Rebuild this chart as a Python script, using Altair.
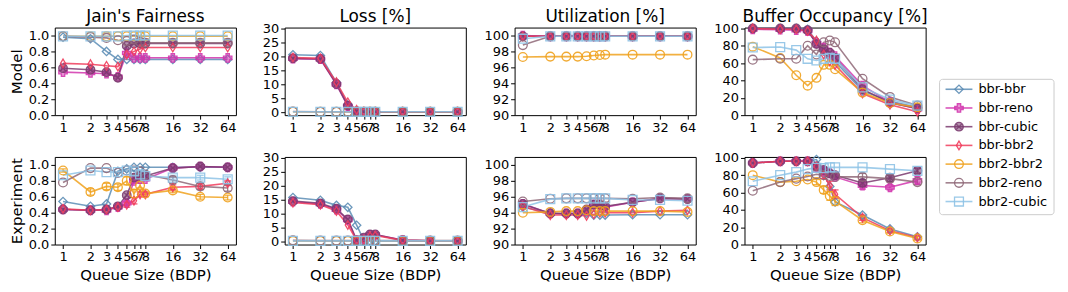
import altair as alt
import pandas as pd

Q = [1, 2, 3, 4, 5, 6, 7, 8, 16, 32, 64]
SERIES = ["bbr-bbr", "bbr-reno", "bbr-cubic", "bbr-bbr2", "bbr2-bbr2", "bbr2-reno", "bbr2-cubic"]
COLORS = ["#5C8DB5", "#D236AE", "#7A3A6E", "#F03C5C", "#F0A21E", "#8F6878", "#8EC3E6"]
FILLS = ["transparent", "#D236AE", "#7A3A6E", "transparent", "transparent", "transparent", "transparent"]
SHAPES = ["diamond", "cross",
          "M1,0A1,1,0,1,1,-1,0A1,1,0,1,1,1,0ZM-0.7,-0.7L0.7,0.7M-0.7,0.7L0.7,-0.7",
          "M0,-1L0.6,0L0,1L-0.6,0Z", "circle", "circle", "square"]
SIZES = [70, 80, 60, 75, 45, 80, 55]

COL_TITLES = ["Jain's Fairness", "Loss [%]", "Utilization [%]", "Buffer Occupancy [%]"]
ROW_TITLES = ["Model", "Experiment"]

model_fair = {
    "bbr-bbr":    [0.98, 0.96, 0.80, 0.70, 0.70, 0.70, 0.70, 0.70, 0.70, 0.70, 0.70],
    "bbr-reno":   [0.54, 0.53, 0.52, 0.48, 0.78, 0.72, 0.72, 0.72, 0.72, 0.72, 0.72],
    "bbr-cubic":  [0.59, 0.57, 0.54, 0.47, 0.87, 0.90, 0.90, 0.90, 0.90, 0.90, 0.90],
    "bbr-bbr2":   [0.65, 0.64, 0.62, 0.61, 0.76, 0.80, 0.83, 0.85, 0.85, 0.85, 0.85],
    "bbr2-bbr2":  [0.99, 0.99, 0.99, 0.99, 0.99, 0.99, 0.99, 0.99, 0.99, 0.99, 0.99],
    "bbr2-reno":  [0.99, 0.98, 0.97, 0.94, 0.93, 0.95, 0.92, 0.91, 0.91, 0.91, 0.91],
    "bbr2-cubic": [0.99, 0.99, 0.99, 0.99, 1.00, 1.00, 1.00, 1.00, 1.00, 1.00, 1.00],
}
model_loss = {
    "bbr-bbr":    [20.6, 20.3, 10.6, 2.6, 0.4, 0.2, 0.2, 0.2, 0.2, 0.2, 0.2],
    "bbr-reno":   [19.2, 19.0, 10.0, 2.2, 0.3, 0.2, 0.2, 0.2, 0.2, 0.2, 0.2],
    "bbr-cubic":  [19.3, 19.1, 10.1, 2.4, 0.3, 0.2, 0.2, 0.2, 0.2, 0.2, 0.2],
    "bbr-bbr2":   [19.6, 19.3, 10.8, 3.6, 0.9, 0.3, 0.2, 0.2, 0.2, 0.2, 0.2],
    "bbr2-bbr2":  [0.2, 0.2, 0.2, 0.2, 0.2, 0.2, 0.2, 0.2, 0.2, 0.2, 0.2],
    "bbr2-reno":  [0.3, 0.2, 0.2, 0.2, 0.2, 0.2, 0.2, 0.2, 0.2, 0.2, 0.2],
    "bbr2-cubic": [0.2, 0.2, 0.2, 0.2, 0.2, 0.2, 0.2, 0.2, 0.2, 0.2, 0.2],
}
model_util = {
    "bbr-bbr":    [99.9, 99.9, 99.9, 99.9, 99.9, 99.9, 99.9, 99.9, 99.9, 99.9, 99.9],
    "bbr-reno":   [100.0, 99.9, 99.9, 99.9, 99.9, 99.9, 99.9, 99.9, 99.9, 99.9, 99.9],
    "bbr-cubic":  [99.9, 99.9, 99.9, 99.9, 99.9, 99.9, 99.9, 99.9, 99.9, 99.9, 99.9],
    "bbr-bbr2":   [99.9, 99.9, 99.9, 99.9, 99.9, 99.9, 99.9, 99.9, 99.9, 99.9, 99.9],
    "bbr2-bbr2":  [97.3, 97.35, 97.35, 97.35, 97.4, 97.5, 97.55, 97.6, 97.6, 97.6, 97.6],
    "bbr2-reno":  [98.8, 99.9, 99.9, 99.9, 99.9, 99.9, 99.9, 99.9, 99.9, 99.9, 99.9],
    "bbr2-cubic": [99.6, 99.9, 99.9, 99.9, 99.9, 99.9, 99.9, 99.9, 99.9, 99.9, 99.9],
}
model_buf = {
    "bbr-bbr":    [100, 100, 100, 99, 85, 74, 68, 62, 28, 16, 9],
    "bbr-reno":   [99, 98.5, 98, 97, 83, 78, 72, 68, 34, 15, 7],
    "bbr-cubic":  [100, 100, 100, 98, 82, 76, 72, 66, 30, 14, 8],
    "bbr-bbr2":   [100, 99, 99, 97, 86, 70, 62, 58, 25, 12, 4],
    "bbr2-bbr2":  [79, 66, 46, 34, 43, 58, 58, 53, 26, 14, 9],
    "bbr2-reno":  [64, 65, 65, 80, 70, 84, 86, 84, 42, 21, 11],
    "bbr2-cubic": [78, 78.5, 75, 65, 63, 65, 66, 65, 32, 18, 11],
}

exp_fair = {
    "bbr-bbr":    [0.54, 0.48, 0.51, 0.92, 0.95, 0.97, 0.97, 0.97, 0.97, 0.97, 0.97],
    "bbr-reno":   [0.44, 0.43, 0.43, 0.47, 0.52, 0.80, 0.82, 0.82, 0.96, 0.98, 0.97],
    "bbr-cubic":  [0.44, 0.43, 0.44, 0.48, 0.62, 0.84, 0.86, 0.86, 0.96, 0.98, 0.97],
    "bbr-bbr2":   [0.45, 0.43, 0.44, 0.47, 0.50, 0.55, 0.63, 0.63, 0.72, 0.73, 0.77],
    "bbr2-bbr2":  [0.93, 0.66, 0.73, 0.72, 0.80, 0.64, 0.74, 0.64, 0.68, 0.60, 0.59],
    "bbr2-reno":  [0.78, 0.96, 0.96, 0.90, 0.93, 0.93, 0.92, 0.88, 0.81, 0.73, 0.71],
    "bbr2-cubic": [0.87, 0.93, 0.91, 0.91, 0.93, 0.92, 0.88, 0.86, 0.84, 0.84, 0.82],
}
exp_fair_err = {
    "bbr-reno":   [0, 0, 0, 0, 0.03, 0.03, 0.02, 0.02, 0, 0, 0],
    "bbr-bbr2":   [0, 0, 0, 0.02, 0.03, 0.04, 0.03, 0.03, 0.03, 0.03, 0.03],
    "bbr2-bbr2":  [0.02, 0.04, 0.04, 0.04, 0.05, 0.05, 0.03, 0.03, 0.03, 0.03, 0.03],
    "bbr2-reno":  [0, 0, 0, 0, 0, 0, 0, 0.03, 0.04, 0.04, 0.04],
    "bbr2-cubic": [0, 0, 0, 0, 0, 0, 0.03, 0.03, 0.03, 0.03, 0.03],
}
exp_loss = {
    "bbr-bbr":    [15.8, 14.8, 13.0, 12.3, 5.9, 0.5, 0.3, 0.3, 0.3, 0.2, 0.3],
    "bbr-reno":   [14.3, 13.5, 11.5, 7.8, 0.5, 1.0, 2.5, 2.5, 0.6, 0.3, 0.2],
    "bbr-cubic":  [14.5, 13.7, 11.8, 8.0, 0.5, 1.5, 2.6, 2.6, 0.5, 0.3, 0.2],
    "bbr-bbr2":   [14.0, 13.2, 11.0, 6.0, 0.5, 0.8, 2.0, 2.2, 0.5, 0.3, 0.2],
    "bbr2-bbr2":  [0.3, 0.3, 0.3, 0.3, 0.3, 0.3, 0.3, 0.3, 0.3, 0.3, 0.3],
    "bbr2-reno":  [0.5, 0.4, 0.4, 0.4, 0.4, 0.4, 0.4, 0.4, 0.4, 0.4, 0.4],
    "bbr2-cubic": [0.3, 0.3, 0.3, 0.3, 0.3, 0.3, 0.3, 0.3, 0.3, 0.3, 0.3],
}
exp_util = {
    "bbr-bbr":    [94.7, 94.0, 93.8, 93.8, 93.9, 93.7, 93.7, 93.7, 93.75, 93.75, 93.75],
    "bbr-reno":   [95.1, 93.9, 93.9, 93.9, 94.3, 95.0, 95.0, 94.7, 95.3, 95.8, 95.75],
    "bbr-cubic":  [95.1, 93.9, 93.9, 93.9, 94.4, 95.0, 95.0, 94.8, 95.3, 95.8, 95.7],
    "bbr-bbr2":   [94.8, 93.7, 93.7, 93.7, 93.6, 93.8, 94.0, 94.0, 94.0, 94.2, 94.3],
    "bbr2-bbr2":  [94.0, 94.1, 94.2, 94.2, 94.3, 94.2, 94.2, 94.2, 94.2, 94.2, 94.1],
    "bbr2-reno":  [95.4, 95.75, 95.8, 95.8, 95.8, 95.8, 95.8, 95.8, 95.75, 95.9, 95.8],
    "bbr2-cubic": [94.7, 95.7, 95.8, 95.8, 95.8, 95.8, 95.8, 95.8, 95.6, 95.6, 95.5],
}
exp_buf = {
    "bbr-bbr":    [94, 96, 96, 96, 98, 82, 67, 49, 34, 18, 9],
    "bbr-reno":   [94, 96, 96, 96, 89, 85, 82, 78, 68, 66, 74],
    "bbr-cubic":  [94, 96, 96, 96, 90, 86, 82, 80, 71, 77, 85],
    "bbr-bbr2":   [94, 96, 96, 96, 90, 80, 68, 58, 31, 16, 8],
    "bbr2-bbr2":  [80, 72, 73, 75, 72, 63, 56, 50, 28, 15, 7],
    "bbr2-reno":  [62, 72, 76, 78.5, 81, 80, 79, 78, 78, 76, 72],
    "bbr2-cubic": [73, 80, 83.5, 87, 88.5, 88, 89, 89, 89, 87, 85],
}
exp_buf_err = {
    "bbr-reno":   [0, 0, 0, 0, 3, 3, 3, 3, 4, 3, 4],
    "bbr-cubic":  [0, 0, 0, 0, 3, 3, 3, 3, 4, 4, 3],
    "bbr-bbr2":   [0, 0, 0, 0, 3, 4, 5, 5, 3, 2, 2],
    "bbr2-bbr2":  [0, 0, 0, 0, 3, 4, 5, 5, 3, 2, 2],
    "bbr2-reno":  [0, 0, 0, 0, 0, 0, 0, 0, 4, 4, 3],
}

PANELS = [
    [model_fair, model_loss, model_util, model_buf],
    [exp_fair, exp_loss, exp_util, exp_buf],
]
ERRS = [[{}, {}, {}, {}], [exp_fair_err, {}, {}, exp_buf_err]]
YDOMS = [[0, 1.1], [-1, 30.3], [90, 101], [0, 101]]
YTICKS = [[0, 0.2, 0.4, 0.6, 0.8, 1.0], [0, 5, 10, 15, 20, 25, 30],
          [90, 92, 94, 96, 98, 100], [0, 20, 40, 60, 80, 100]]
YFMTS = [".1f", "d", "d", "d"]

W, H = 182, 88

color_scale = alt.Scale(domain=SERIES, range=COLORS)
fill_scale = alt.Scale(domain=SERIES, range=FILLS)
shape_scale = alt.Scale(domain=SERIES, range=SHAPES)
size_scale = alt.Scale(domain=SERIES, range=SIZES)


def legend_layer():
    leg_df = pd.DataFrame({"series": SERIES, "i": list(range(len(SERIES)))})
    # item i sits 62 + 18.8*i px below the top of the panel
    yl = alt.Y("i:Q", scale=alt.Scale(domain=[-62 / 18.8, (H - 62) / 18.8], reverse=True, nice=False, zero=False),
               axis=None)
    x0 = W + 14
    box = alt.Chart(pd.DataFrame({"a": [0]})).mark_rect(
        fill="white", stroke="#cccccc", strokeWidth=1, cornerRadius=3
    ).encode(x=alt.value(x0), x2=alt.value(x0 + 115), y=alt.value(52), y2=alt.value(188))
    base = alt.Chart(leg_df)
    rules = base.mark_rule(strokeWidth=1.6, opacity=0.85).encode(
        x=alt.value(x0 + 6), x2=alt.value(x0 + 33), y=yl,
        color=alt.Color("series:N", scale=color_scale, legend=None))
    pts = base.mark_point(filled=False, strokeWidth=1.3, opacity=0.9, fillOpacity=0.6).encode(
        x=alt.value(x0 + 19.5), y=yl,
        color=alt.Color("series:N", scale=color_scale, legend=None),
        shape=alt.Shape("series:N", scale=shape_scale, legend=None),
        fill=alt.Fill("series:N", scale=fill_scale, legend=None),
        size=alt.Size("series:N", scale=size_scale, legend=None))
    txt = base.mark_text(align="left", baseline="middle", fontSize=13,
                         font="DejaVu Sans", color="black").encode(
        x=alt.value(x0 + 39), y=yl, text="series:N")
    return alt.layer(box, rules, pts, txt)


def panel(r, c):
    data = PANELS[r][c]
    errs = ERRS[r][c]
    rows = []
    for s in SERIES:
        e_list = errs.get(s, [0] * len(Q))
        for q, v, e in zip(Q, data[s], e_list):
            rows.append({"q": q, "v": v, "series": s, "lo": v - e, "hi": v + e, "e": e})
    df = pd.DataFrame(rows)
    xaxis_kw = dict(values=Q, format="d", labelOverlap=False, grid=False)
    xaxis_kw["title"] = "Queue Size (BDP)" if r == 1 else None
    yaxis_kw = dict(values=YTICKS[c], format=YFMTS[c], grid=False, titlePadding=4)
    yaxis_kw["title"] = ROW_TITLES[r] if c == 0 else None
    xenc = alt.X("q:Q", scale=alt.Scale(type="log", base=2, domain=[0.812, 78.8], nice=False),
                 axis=alt.Axis(**xaxis_kw))
    yscale = alt.Scale(domain=YDOMS[c], nice=False, zero=False)
    cenc = alt.Color("series:N", scale=color_scale, legend=None)
    base = alt.Chart(df).encode(
        x=xenc,
        y=alt.Y("v:Q", scale=yscale, axis=alt.Axis(**yaxis_kw)),
        color=cenc,
    )
    lines = base.mark_line(strokeWidth=1.6, opacity=0.85)
    pts = base.mark_point(filled=False, strokeWidth=1.3, opacity=0.9, fillOpacity=0.6).encode(
        shape=alt.Shape("series:N", scale=shape_scale, legend=None),
        fill=alt.Fill("series:N", scale=fill_scale, legend=None),
        size=alt.Size("series:N", scale=size_scale, legend=None),
    )
    layers = [lines]
    if errs:
        eb = alt.Chart(df).transform_filter("datum.e > 0")
        bars = eb.mark_rule(strokeWidth=1.3, opacity=0.85).encode(
            x=xenc, y=alt.Y("lo:Q", scale=yscale, axis=alt.Axis(**yaxis_kw)), y2="hi:Q", color=cenc)
        caps_lo = eb.mark_tick(orient="horizontal", size=7, thickness=1.3, opacity=0.85).encode(
            x=xenc, y=alt.Y("lo:Q", scale=yscale, axis=alt.Axis(**yaxis_kw)), color=cenc)
        caps_hi = eb.mark_tick(orient="horizontal", size=7, thickness=1.3, opacity=0.85).encode(
            x=xenc, y=alt.Y("hi:Q", scale=yscale, axis=alt.Axis(**yaxis_kw)), color=cenc)
        layers += [bars, caps_lo, caps_hi]
    layers.append(pts)
    if r == 0:
        # column title drawn as a text mark so that all four sit at the same height
        layers.append(alt.Chart(pd.DataFrame({"t": [COL_TITLES[c]]})).mark_text(
            fontSize=17, font="DejaVu Sans", baseline="alphabetic", align="center", color="black"
        ).encode(x=alt.value(W / 2), y=alt.value(-6), text="t:N"))
    ch = alt.layer(*layers)
    if r == 0 and c == 3:
        ch = alt.layer(ch, legend_layer()).resolve_scale(y="independent")
    return ch.properties(width=W, height=H)


panels = [panel(r, c) for r in range(2) for c in range(4)]
chart = alt.concat(*panels, columns=4, spacing={"row": 42, "column": 49}, bounds="flush").properties(
    padding={"left": 0, "top": -2, "right": 5, "bottom": 0}
).configure_view(stroke="black", strokeWidth=1).configure_axis(
    labelFont="DejaVu Sans", titleFont="DejaVu Sans", labelFontSize=13, titleFontSize=15,
    titleFontWeight="normal", labelColor="black", titleColor="black", tickColor="black",
    domain=False, tickSize=4, labelPadding=2, tickWidth=1
)

chart.save("out.html", embed_options={"renderer": "svg", "actions": False})
